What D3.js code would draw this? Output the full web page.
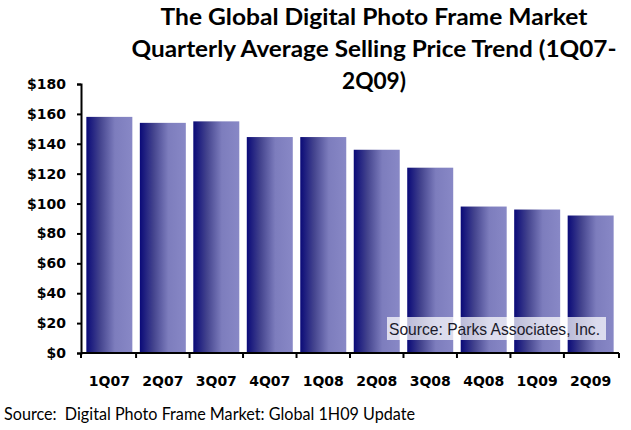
<!DOCTYPE html>
<html>
<head>
<meta charset="utf-8">
<script src="https://cdn.jsdelivr.net/npm/d3@7"></script>
<style>
  body { margin: 0; background: #fff; }
  svg { display: block; }
</style>
</head>
<body>
<div id="chart"></div>
<script>
// data
var quarters = ["1Q07", "2Q07", "3Q07", "4Q07", "1Q08", "2Q08", "3Q08", "4Q08", "1Q09", "2Q09"];
var asp = [158, 154, 155, 144.5, 144.5, 136, 124, 98, 96, 92];
var yTicks = [0, 20, 40, 60, 80, 100, 120, 140, 160, 180];
var titleLines = ["The Global Digital Photo Frame Market", "Quarterly Average Selling Price Trend (1Q07-", "2Q09)"];

var width = 631, height = 430;
var margin = { top: 84, right: 12, bottom: 77, left: 81 };

var svg = d3.select("#chart").append("svg")
    .attr("width", width)
    .attr("height", height);

// bar gradient, dark navy to lavender
var grad = svg.append("defs").append("linearGradient")
    .attr("id", "barGrad")
    .attr("x1", "0%").attr("x2", "100%")
    .attr("y1", "0%").attr("y2", "0%");
grad.append("stop").attr("offset", "0%").attr("stop-color", "#0a0a78");
grad.append("stop").attr("offset", "30%").attr("stop-color", "#44448e");
grad.append("stop").attr("offset", "62%").attr("stop-color", "#7d7dbd");
grad.append("stop").attr("offset", "100%").attr("stop-color", "#8888c6");

var x = d3.scaleBand()
    .domain(quarters)
    .range([margin.left, width - margin.right])
    .paddingInner(0.14)
    .paddingOuter(0.1);

var y = d3.scaleLinear()
    .domain([0, 180])
    .range([height - margin.bottom, margin.top]);

// bars
svg.selectAll("rect.bar")
    .data(asp)
    .enter().append("rect")
    .attr("class", "bar")
    .attr("x", function(d, i) { return x(quarters[i]); })
    .attr("y", function(d) { return y(d); })
    .attr("width", x.bandwidth())
    .attr("height", function(d) { return y(0) - y(d); })
    .attr("fill", "url(#barGrad)");

// y axis
var yAxis = svg.append("g")
    .attr("transform", "translate(" + margin.left + ",0)")
    .call(d3.axisLeft(y).tickValues(yTicks).tickSize(4).tickPadding(11)
        .tickFormat(function(d) { return "$" + d; }));
yAxis.select(".domain").attr("stroke", "#000").attr("stroke-width", 2);
yAxis.selectAll(".tick line").attr("stroke", "#000").attr("stroke-width", 2);
yAxis.selectAll(".tick text")
    .attr("fill", "#000")
    .style("font-family", "DejaVu Sans")
    .style("font-weight", "bold")
    .style("font-size", "14px");

// x axis: labels from the axis, ticks at category boundaries
var xAxis = svg.append("g")
    .attr("transform", "translate(0," + y(0) + ")")
    .call(d3.axisBottom(x).tickSize(0).tickPadding(23));
xAxis.select(".domain").attr("stroke", "#000").attr("stroke-width", 2)
    .attr("d", "M" + margin.left + ",0H" + (width - margin.right));
xAxis.selectAll(".tick text")
    .attr("fill", "#000")
    .style("font-family", "DejaVu Sans")
    .style("font-weight", "bold")
    .style("font-size", "14px");

var step = x.step();
var bounds = quarters.map(function(q) { return x(q) - step * x.paddingInner() / 2; });
bounds[0] = margin.left;
bounds.push(width - margin.right);
xAxis.selectAll("line.bound")
    .data(bounds)
    .enter().append("line")
    .attr("class", "bound")
    .attr("x1", function(d) { return d; })
    .attr("x2", function(d) { return d; })
    .attr("y1", 0).attr("y2", 5)
    .attr("stroke", "#000").attr("stroke-width", 2);

// title
var titleY = [25, 57, 89];
var titleW = [427, 485, 64];
svg.selectAll("text.title")
    .data(titleLines)
    .enter().append("text")
    .attr("class", "title")
    .attr("x", 374)
    .attr("y", function(d, i) { return titleY[i]; })
    .attr("text-anchor", "middle")
    .attr("textLength", function(d, i) { return titleW[i]; })
    .attr("lengthAdjust", "spacingAndGlyphs")
    .style("font-family", "Lato")
    .style("font-weight", "bold")
    .style("font-size", "23px")
    .text(function(d) { return d; });

// in-plot source box
svg.append("rect")
    .attr("x", 387).attr("y", 317)
    .attr("width", 219).attr("height", 23)
    .attr("fill", "#fff").attr("fill-opacity", 0.72);
svg.append("text")
    .attr("x", 389).attr("y", 335)
    .attr("textLength", 211)
    .attr("lengthAdjust", "spacingAndGlyphs")
    .style("font-family", "Liberation Sans")
    .style("font-size", "17px")
    .attr("fill", "#1a1a2a")
    .text("Source: Parks Associates, Inc.");

// footer source
svg.append("text")
    .attr("x", 4).attr("y", 420)
    .attr("textLength", 411)
    .attr("lengthAdjust", "spacingAndGlyphs")
    .style("font-family", "Lato")
    .style("font-size", "17px")
    .attr("fill", "#000")
    .attr("xml:space", "preserve")
    .text("Source:  Digital Photo Frame Market: Global 1H09 Update");
</script>
</body>
</html>
